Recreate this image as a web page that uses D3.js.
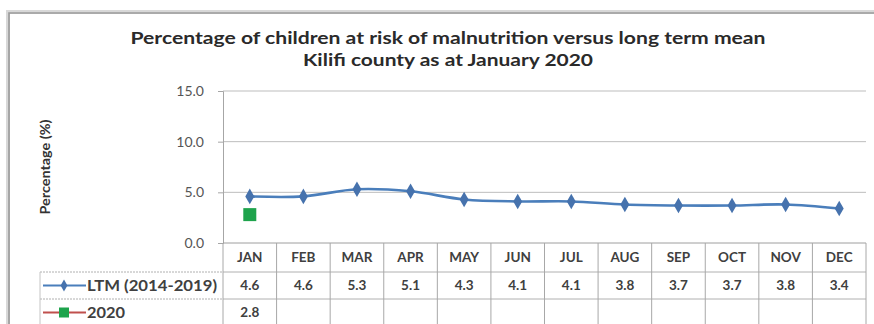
<!DOCTYPE html>
<html>
<head>
<meta charset="utf-8">
<script src="https://cdn.jsdelivr.net/npm/d3@7"></script>
<style>
  html, body { margin: 0; padding: 0; background: #fff; overflow: hidden; }
  svg { display: block; }
  text { font-family: Lato, "Open Sans", sans-serif; }
</style>
</head>
<body>
<svg id="chart" width="874" height="324"></svg>
<script>
// Monthly data table
const months = ["JAN", "FEB", "MAR", "APR", "MAY", "JUN", "JUL", "AUG", "SEP", "OCT", "NOV", "DEC"];
const ltmValues = [4.6, 4.6, 5.3, 5.1, 4.3, 4.1, 4.1, 3.8, 3.7, 3.7, 3.8, 3.4];
const values2020 = [2.8];
const yTicks = [0, 5, 10, 15];
const seriesNames = ["LTM (2014-2019)", "2020"];
const titleLines = [
  "Percentage of children at risk of malnutrition versus long term mean",
  "Kilifi county  as at January 2020"
];
const yAxisTitle = "Percentage (%)";

const svg = d3.select("#chart");

const plot = { left: 223, right: 866, top: 91, bottom: 243 };
const table = { left: 40, rows: [243, 272, 299, 326] };

const x = d3.scaleBand().domain(months).range([plot.left, plot.right]);
const y = d3.scaleLinear().domain([0, 15]).range([plot.bottom, plot.top]);

const blue = "#4a7ebb";
const blueDark = "#4672ad";
const green = "#1ea34c";
const red = "#c0504d";
const textGray = "#404040";

// chart frame: top and left edges with a soft shadow
svg.append("path").attr("d", "M8,330V12H874")
  .attr("fill", "none").attr("stroke", "#d8d8d8").attr("stroke-width", 4);
svg.append("path").attr("d", "M9,330V13H874")
  .attr("fill", "none").attr("stroke", "#9a9a9a").attr("stroke-width", 1.6);

// titles, fitted to a fixed span
const titleSpans = [635, 290];
titleLines.forEach((t, i) => {
  svg.append("text")
    .attr("x", 448).attr("y", 44 + i * 22)
    .attr("text-anchor", "middle")
    .attr("font-weight", "bold")
    .attr("font-size", 17.5)
    .attr("fill", "#2a2a2a")
    .attr("textLength", titleSpans[i])
    .attr("lengthAdjust", "spacingAndGlyphs")
    .text(t);
});

// gridlines
svg.append("g").selectAll("line").data(yTicks.filter(d => d > 0)).join("line")
  .attr("x1", plot.left).attr("x2", plot.right)
  .attr("y1", d => y(d)).attr("y2", d => y(d))
  .attr("stroke", "#bdbdbd").attr("stroke-width", 1);

// y axis
const yAxis = d3.axisLeft(y).tickValues(yTicks).tickFormat(d3.format(".1f")).tickSize(5).tickPadding(14);
const gy = svg.append("g").attr("transform", `translate(${plot.left},0)`).call(yAxis);
gy.select(".domain").attr("stroke", "#a6a6a6");
gy.selectAll(".tick line").attr("stroke", "#a6a6a6");
gy.selectAll(".tick text")
  .attr("font-family", "Lato, sans-serif").attr("font-size", 14)
  .attr("fill", "#555");

svg.append("text")
  .attr("transform", `translate(50,${(plot.top + plot.bottom) / 2}) rotate(-90)`)
  .attr("text-anchor", "middle")
  .attr("font-size", 12.5).attr("font-weight", "bold").attr("fill", "#333")
  .attr("textLength", 95).attr("lengthAdjust", "spacingAndGlyphs")
  .text(yAxisTitle);

// data table grid
const tg = svg.append("g");
tg.append("line").attr("x1", plot.left).attr("x2", plot.right)
  .attr("y1", table.rows[0]).attr("y2", table.rows[0]).attr("stroke", "#9e9e9e");
[table.rows[1], table.rows[2]].forEach(ry => {
  tg.append("line").attr("x1", table.left).attr("x2", plot.left)
    .attr("y1", ry).attr("y2", ry).attr("stroke", "#b0b0b0").attr("stroke-dasharray", "2,1");
  tg.append("line").attr("x1", plot.left).attr("x2", plot.right)
    .attr("y1", ry).attr("y2", ry).attr("stroke", "#b0b0b0");
});
tg.append("line").attr("x1", table.left).attr("x2", table.left)
  .attr("y1", table.rows[1]).attr("y2", table.rows[3]).attr("stroke", "#c4c4c4");
tg.selectAll("line.col").data(months.concat(["end"])).join("line").attr("class", "col")
  .attr("x1", (d, i) => plot.left + i * x.bandwidth())
  .attr("x2", (d, i) => plot.left + i * x.bandwidth())
  .attr("y1", table.rows[0]).attr("y2", table.rows[3])
  .attr("stroke", "#a8a8a8");

// month headers
tg.selectAll("text.hdr").data(months).join("text").attr("class", "hdr")
  .attr("x", d => x(d) + x.bandwidth() / 2).attr("y", 262)
  .attr("text-anchor", "middle").attr("font-size", 13.5).attr("font-weight", "bold")
  .attr("fill", textGray).text(d => d);

// values
tg.selectAll("text.ltm").data(ltmValues).join("text").attr("class", "ltm")
  .attr("x", (d, i) => x(months[i]) + x.bandwidth() / 2).attr("y", 290)
  .attr("text-anchor", "middle").attr("font-size", 13.5).attr("font-weight", "bold")
  .attr("fill", textGray).text(d => d.toFixed(1));
tg.selectAll("text.v20").data(values2020).join("text").attr("class", "v20")
  .attr("x", (d, i) => x(months[i]) + x.bandwidth() / 2).attr("y", 317)
  .attr("text-anchor", "middle").attr("font-size", 13.5).attr("font-weight", "bold")
  .attr("fill", textGray).text(d => d.toFixed(1));

// legend keys in the table
const keyY = [285.5, 312.5];
tg.append("line").attr("x1", 43).attr("x2", 86).attr("y1", keyY[0]).attr("y2", keyY[0])
  .attr("stroke", blue).attr("stroke-width", 2);
tg.append("path").attr("d", d3.symbol().type(d3.symbolDiamond).size(40))
  .attr("transform", `translate(64,${keyY[0]})`).attr("fill", blueDark);
tg.append("line").attr("x1", 43).attr("x2", 86).attr("y1", keyY[1]).attr("y2", keyY[1])
  .attr("stroke", red).attr("stroke-width", 2);
tg.append("rect").attr("x", 59).attr("y", keyY[1] - 5).attr("width", 10).attr("height", 10).attr("fill", green);
const labelSpans = [130, 38];
seriesNames.forEach((n, i) => {
  tg.append("text").attr("x", 87).attr("y", keyY[i] + 5.5)
    .attr("font-size", 15).attr("font-weight", "bold").attr("fill", textGray)
    .attr("textLength", labelSpans[i]).attr("lengthAdjust", "spacingAndGlyphs")
    .text(n);
});

// LTM line
const cx = (d, i) => x(months[i]) + x.bandwidth() / 2;
const line = d3.line().x(cx).y(d => y(d)).curve(d3.curveCatmullRom.alpha(0.5));
svg.append("path").datum(ltmValues).attr("d", line)
  .attr("fill", "none").attr("stroke", blue).attr("stroke-width", 2.6);
svg.append("g").selectAll("path").data(ltmValues).join("path")
  .attr("d", d3.symbol().type(d3.symbolDiamond).size(70))
  .attr("transform", (d, i) => `translate(${cx(d, i)},${y(d)})`)
  .attr("fill", blueDark);

// 2020 points
svg.append("g").selectAll("rect").data(values2020).join("rect")
  .attr("x", (d, i) => cx(d, i) - 6.5).attr("y", d => y(d) - 6.5)
  .attr("width", 13).attr("height", 13).attr("fill", green);
</script>
</body>
</html>
